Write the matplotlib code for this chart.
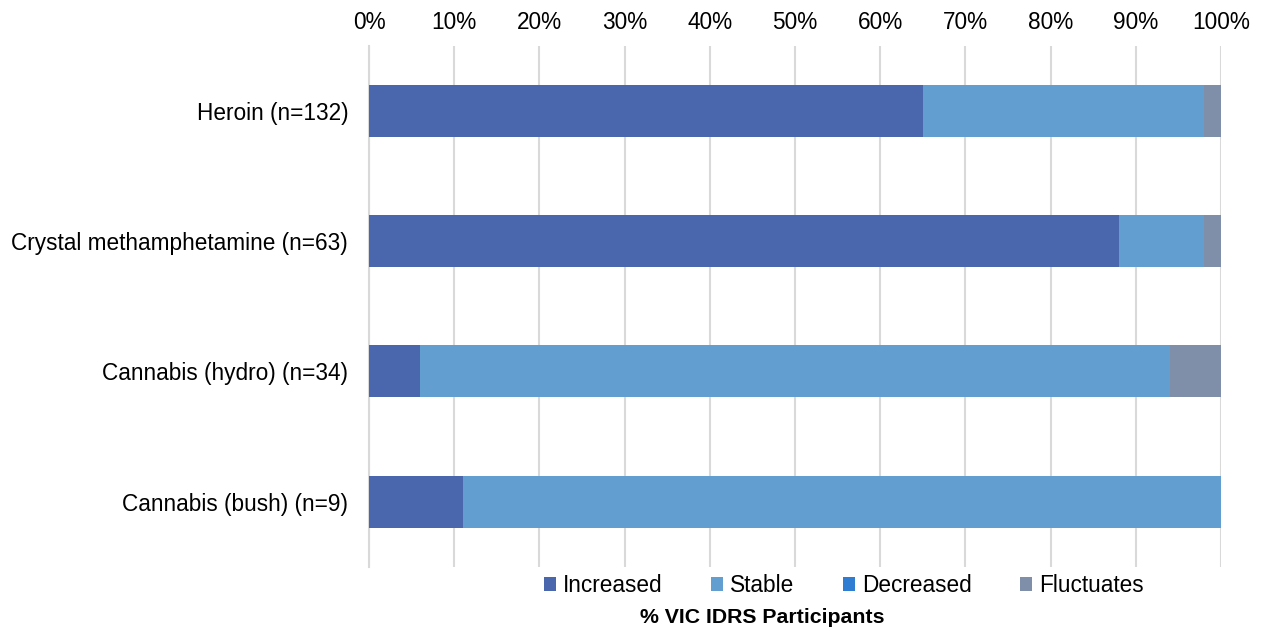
import matplotlib
matplotlib.use("Agg")
import matplotlib.pyplot as plt
from matplotlib.ticker import FuncFormatter

plt.rcParams['font.family'] = ['Liberation Sans', 'DejaVu Sans']

categories = ["Heroin (n=132)", "Crystal methamphetamine (n=63)", "Cannabis (hydro) (n=34)", "Cannabis (bush) (n=9)"]
series_names = ["Increased", "Stable", "Decreased", "Fluctuates"]
increased = [65, 88, 6, 11]
stable = [33, 10, 88, 89]
decreased = [0, 0, 0, 0]
fluctuates = [2, 2, 6, 0]
colors = ["#4A66AC", "#629FD0", "#2E7DD2", "#7F8FA9"]

fig = plt.figure(figsize=(12.65, 6.32), dpi=100)
ax = fig.add_axes([0.2917, 0.103, 0.6735, 0.825])

ypos = list(range(len(categories)))
left = [0] * len(categories)
handles = []
for name, vals, c in zip(series_names, [increased, stable, decreased, fluctuates], colors):
    b = ax.barh(ypos, vals, left=left, height=0.4, color=c, label=name, edgecolor='none', zorder=3)
    handles.append(b)
    left = [l + v for l, v in zip(left, vals)]

ax.set_ylim(len(categories) - 0.5, -0.5)
ax.set_xlim(0, 100)
ax.set_yticks(ypos)
ax.set_yticklabels(categories, fontsize=16.3)
ax.set_xticks(range(0, 101, 10))
ax.xaxis.set_major_formatter(FuncFormatter(lambda v, p: f"{int(v)}%"))
ax.xaxis.tick_top()
ax.tick_params(axis='x', length=0, labelsize=16.3, pad=8)
ax.tick_params(axis='y', length=0, pad=15)
ax.grid(axis='x', color='#D9D9D9', linewidth=1.5, zorder=0)
for s in ['top', 'right', 'bottom']:
    ax.spines[s].set_visible(False)
ax.spines['left'].set_color('#D9D9D9')
ax.spines['left'].set_linewidth(1.5)

fig.legend(handles=handles, labels=series_names, loc='center', bbox_to_anchor=(0.667, 0.074),
           ncol=4, frameon=False, fontsize=16.3, handlelength=0.55, handleheight=0.55,
           handletextpad=0.3, columnspacing=2.13)
fig.text(0.6025, 0.023, "% VIC IDRS Participants", ha='center', va='center', fontsize=15.3, fontweight='bold')

fig.savefig("out.png", dpi=100)
